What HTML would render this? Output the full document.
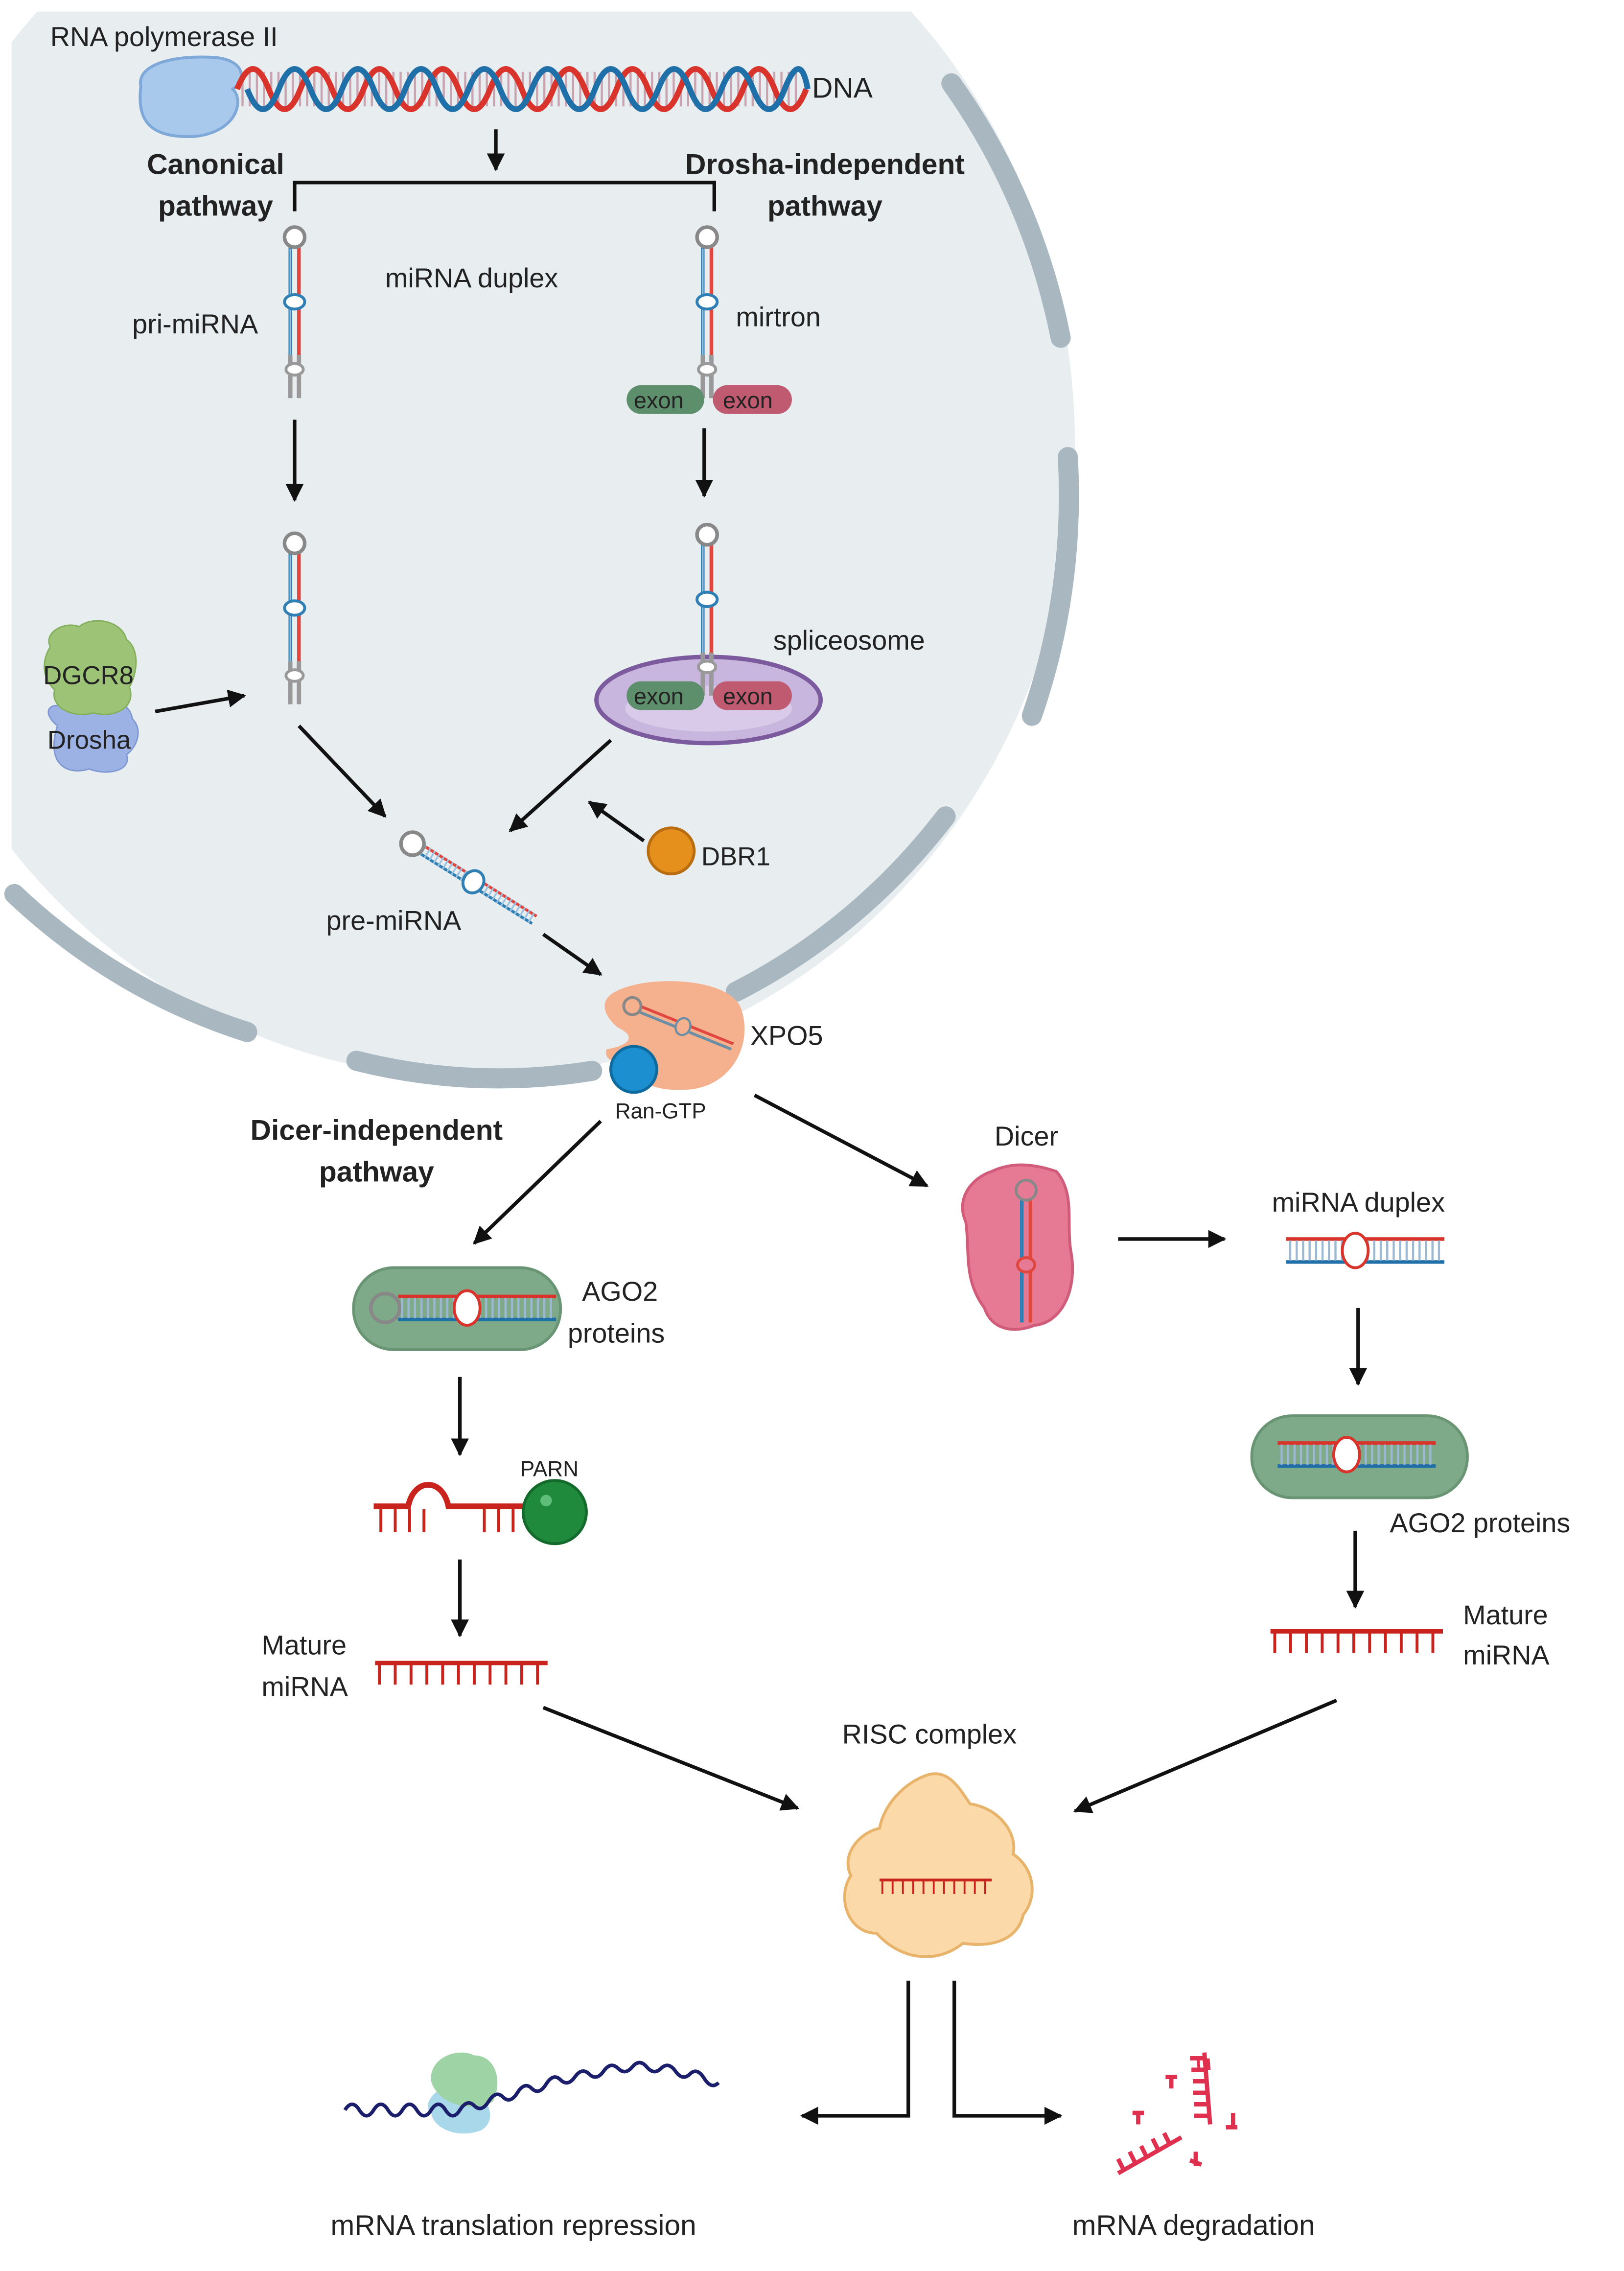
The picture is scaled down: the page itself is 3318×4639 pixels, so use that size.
<!DOCTYPE html>
<html><head><meta charset="utf-8"><style>
html,body{margin:0;padding:0;background:#fff}
svg{display:block}
text{font-family:"Liberation Sans",sans-serif;fill:#222}
</style></head><body>
<svg width="3318" height="4639" viewBox="0 0 1130 1580" preserveAspectRatio="none" xmlns="http://www.w3.org/2000/svg">
<defs>
<clipPath id="cc"><rect x="8" y="8" width="1200" height="1200"/></clipPath>
<marker id="ah" viewBox="0 0 10 10" refX="9" refY="5" markerWidth="5" markerHeight="5" orient="auto-start-reverse" markerUnits="strokeWidth"><path d="M0,0 L10,5 L0,10 z" fill="#111"/></marker>
<symbol id="hp" overflow="visible">
<line x1="-3" y1="7" x2="-3" y2="82" stroke="#2f7fb5" stroke-width="2.5"/>
<line x1="3" y1="7" x2="3" y2="82" stroke="#e0473f" stroke-width="2.5"/>
<line x1="-3" y1="8" x2="-3" y2="82" stroke="#9bc3df" stroke-width="1" />
<ellipse cx="0" cy="45" rx="7" ry="5" fill="#fff" stroke="#2f7fb5" stroke-width="2"/>
<line x1="-3" y1="82" x2="-3" y2="112" stroke="#999" stroke-width="3"/>
<line x1="3" y1="82" x2="3" y2="112" stroke="#999" stroke-width="3"/>
<ellipse cx="0" cy="92" rx="6" ry="4" fill="#fff" stroke="#999" stroke-width="2"/>
<circle cx="0" cy="0" r="7" fill="#fff" stroke="#888" stroke-width="2.5"/>
</symbol>
<symbol id="comb" overflow="visible">
<line x1="0" y1="0" x2="120" y2="0" stroke="#c8231c" stroke-width="3"/>
<line x1="2" y1="8" x2="120" y2="8" stroke="#c8231c" stroke-width="14" stroke-dasharray="2 9"/>
</symbol>
<symbol id="dup" overflow="visible">
<line x1="0" y1="0" x2="110" y2="0" stroke="#d9342b" stroke-width="2.5"/>
<line x1="0" y1="16" x2="110" y2="16" stroke="#1f6fa8" stroke-width="2.5"/>
<line x1="2" y1="8" x2="110" y2="8" stroke="#9db8d2" stroke-width="14" stroke-dasharray="1.5 3"/>
<ellipse cx="48" cy="8" rx="9" ry="12" fill="#fff" stroke="#d9342b" stroke-width="2"/>
</symbol>
</defs>

<!-- cell -->
<g clip-path="url(#cc)">
<ellipse cx="330" cy="310" rx="418" ry="440" fill="#e8eef0"/>
</g>
<g fill="none" stroke="#a9b7c0" stroke-width="14" stroke-linecap="round">
<path d="M662 58 A425 447 0 0 1 738 235"/>
<path d="M743 318 A425 447 0 0 1 718 498"/>
<path d="M658 568 A425 447 0 0 1 512 690"/>
<path d="M248 738 A425 447 0 0 0 412 745"/>
<path d="M10 622 A425 447 0 0 0 172 718"/>
</g>

<!-- Pol II & DNA -->
<text x="35" y="32" font-size="19">RNA polymerase II</text>
<path d="M98 60 C95 45 120 38 150 40 C170 42 172 55 162 62 C170 70 165 92 135 95 C105 96 95 85 98 60z" fill="#a8c8ec" stroke="#7ea8d8" stroke-width="2"/>
<line x1="168" y1="62" x2="555" y2="62" stroke="#c9a3b0" stroke-width="24" stroke-dasharray="1.5 3.5"/>
<path d="M165 62 q11 -28 22 0 t22 0 t22 0 t22 0 t22 0 t22 0 t22 0 t22 0 t22 0 t22 0 t22 0 t22 0 t22 0 t22 0 t22 0 t22 0 t22 0 t22 0" fill="none" stroke="#d9342b" stroke-width="4"/>
<path d="M172 62 q11 28 22 0 t22 0 t22 0 t22 0 t22 0 t22 0 t22 0 t22 0 t22 0 t22 0 t22 0 t22 0 t22 0 t22 0 t22 0 t22 0 t22 0 t16 0" fill="none" stroke="#1f6fa8" stroke-width="4"/>
<text x="565" y="68" font-size="20">DNA</text>
<line x1="345" y1="90" x2="345" y2="118" stroke="#111" stroke-width="2.5" marker-end="url(#ah)"/>
<path d="M205 147 V127 H497 V147" fill="none" stroke="#111" stroke-width="2.5"/>
<g font-weight="bold" font-size="20" text-anchor="middle">
<text x="150" y="121">Canonical</text><text x="150" y="150">pathway</text>
<text x="574" y="121">Drosha-independent</text><text x="574" y="150">pathway</text>
<text x="262" y="793">Dicer-independent</text><text x="262" y="822">pathway</text>
</g>

<!-- hairpins -->
<use href="#hp" x="205" y="165"/>
<use href="#hp" x="205" y="378"/>
<use href="#hp" x="492" y="165"/>
<use href="#hp" x="492" y="372"/>
<text x="268" y="200" font-size="19">miRNA duplex</text>
<text x="92" y="232" font-size="19">pri-miRNA</text>
<text x="512" y="227" font-size="19">mirtron</text>
<rect x="436" y="268" width="54" height="20" rx="10" fill="#5e8f6c"/>
<rect x="496" y="268" width="55" height="20" rx="10" fill="#c05a70"/>
<text x="441" y="284" font-size="16">exon</text><text x="503" y="284" font-size="16">exon</text>

<line x1="205" y1="292" x2="205" y2="348" stroke="#111" stroke-width="2.5" marker-end="url(#ah)"/>
<line x1="490" y1="298" x2="490" y2="345" stroke="#111" stroke-width="2.5" marker-end="url(#ah)"/>

<ellipse cx="493" cy="487" rx="78" ry="30" fill="#c9b6de" stroke="#7c5a9e" stroke-width="3"/>
<ellipse cx="493" cy="493" rx="58" ry="16" fill="#d8cae8"/>
<use href="#hp" x="492" y="372"/>
<rect x="436" y="474" width="54" height="20" rx="10" fill="#5e8f6c"/>
<rect x="496" y="474" width="55" height="20" rx="10" fill="#c05a70"/>
<text x="441" y="490" font-size="16">exon</text><text x="503" y="490" font-size="16">exon</text>
<text x="538" y="452" font-size="19">spliceosome</text>

<!-- DGCR8 / Drosha -->
<path d="M40 505 C28 495 35 488 45 492 C50 480 90 482 92 500 C100 508 95 520 88 525 C92 536 75 540 62 535 C45 540 32 530 40 505z" fill="#9cb2e4" stroke="#7f98d2"/>
<path d="M35 450 C30 440 45 432 55 436 C65 428 85 432 88 445 C98 452 95 470 90 478 C95 492 80 500 65 496 C50 500 35 492 38 480 C28 470 30 458 35 450z" fill="#9dc476" stroke="#84b05e"/>
<text x="30" y="476" font-size="18">DGCR8</text>
<text x="33" y="521" font-size="18">Drosha</text>
<line x1="108" y1="495" x2="170" y2="484" stroke="#111" stroke-width="2.5" marker-end="url(#ah)"/>

<line x1="208" y1="505" x2="268" y2="568" stroke="#111" stroke-width="2.5" marker-end="url(#ah)"/>
<line x1="425" y1="515" x2="355" y2="578" stroke="#111" stroke-width="2.5" marker-end="url(#ah)"/>
<line x1="448" y1="585" x2="410" y2="558" stroke="#111" stroke-width="2.5" marker-end="url(#ah)"/>
<circle cx="467" cy="592" r="16" fill="#e58f1c" stroke="#b86d10" stroke-width="2"/>
<text x="488" y="602" font-size="18">DBR1</text>

<!-- pre-miRNA -->
<g transform="translate(287 587) rotate(32)">
<line x1="6" y1="-3" x2="100" y2="-3" stroke="#e0473f" stroke-width="2"/>
<line x1="6" y1="3" x2="100" y2="3" stroke="#2f7fb5" stroke-width="2"/>
<line x1="8" y1="0" x2="100" y2="0" stroke="#9bc3df" stroke-width="8" stroke-dasharray="1.2 2.5"/>
<ellipse cx="50" cy="0" rx="7" ry="8" fill="#fff" stroke="#2f7fb5" stroke-width="2"/>
<circle cx="0" cy="0" r="8" fill="#fff" stroke="#888" stroke-width="2.5"/>
</g>
<text x="227" y="647" font-size="19">pre-miRNA</text>
<line x1="378" y1="650" x2="418" y2="678" stroke="#111" stroke-width="2.5" marker-end="url(#ah)"/>

<!-- XPO5 -->
<path d="M428 690 C450 678 505 680 515 700 C525 725 510 755 480 758 C455 760 440 752 440 740 C430 738 420 740 422 730 C435 728 445 722 430 715 C418 705 418 695 428 690z" fill="#f5b08e"/>
<g transform="translate(440 700) rotate(22)">
<line x1="5" y1="-2" x2="75" y2="-2" stroke="#e0473f" stroke-width="2"/>
<line x1="5" y1="2" x2="75" y2="2" stroke="#6d8fa6" stroke-width="2"/>
<ellipse cx="38" cy="0" rx="5" ry="6" fill="#f5b08e" stroke="#6d8fa6" stroke-width="1.5"/>
<circle cx="0" cy="0" r="6" fill="none" stroke="#888" stroke-width="2"/>
</g>
<circle cx="441" cy="744" r="16" fill="#1b8fcf" stroke="#0f6a9e" stroke-width="2"/>
<text x="522" y="727" font-size="19">XPO5</text>
<text x="428" y="778" font-size="15">Ran-GTP</text>

<line x1="418" y1="780" x2="330" y2="865" stroke="#111" stroke-width="2.5" marker-end="url(#ah)"/>
<line x1="525" y1="762" x2="645" y2="825" stroke="#111" stroke-width="2.5" marker-end="url(#ah)"/>

<!-- Dicer -->
<text x="692" y="797" font-size="19">Dicer</text>
<path d="M690 815 C705 808 720 810 735 815 C748 830 742 850 745 870 C750 895 740 920 720 922 C705 928 690 925 685 910 C670 890 675 870 672 850 C665 835 675 820 690 815z" fill="#e67a94" stroke="#d15c7a" stroke-width="2"/>
<line x1="711" y1="835" x2="711" y2="920" stroke="#2f7fb5" stroke-width="2.5"/>
<line x1="717" y1="835" x2="717" y2="920" stroke="#e0473f" stroke-width="2.5"/>
<circle cx="714" cy="828" r="7" fill="#e67a94" stroke="#888" stroke-width="2"/>
<ellipse cx="714" cy="880" rx="6" ry="5" fill="#e67a94" stroke="#e0473f" stroke-width="2"/>
<line x1="778" y1="862" x2="852" y2="862" stroke="#111" stroke-width="2.5" marker-end="url(#ah)"/>

<text x="885" y="843" font-size="19">miRNA duplex</text>
<use href="#dup" x="895" y="862"/>
<line x1="945" y1="910" x2="945" y2="963" stroke="#111" stroke-width="2.5" marker-end="url(#ah)"/>
<rect x="871" y="985" width="150" height="57" rx="28" fill="#7faa8a" stroke="#6a9575" stroke-width="2"/>
<use href="#dup" x="889" y="1004"/>
<text x="967" y="1066" font-size="19">AGO2 proteins</text>
<line x1="943" y1="1065" x2="943" y2="1118" stroke="#111" stroke-width="2.5" marker-end="url(#ah)"/>
<use href="#comb" x="884" y="1135"/>
<text x="1018" y="1130" font-size="19">Mature</text>
<text x="1018" y="1158" font-size="19">miRNA</text>

<!-- left branch -->
<rect x="246" y="882" width="144" height="57" rx="28" fill="#7faa8a" stroke="#6a9575" stroke-width="2"/>
<use href="#dup" x="277" y="902"/>
<circle cx="268" cy="910" r="10" fill="#7faa8a" stroke="#888" stroke-width="2.5"/>
<text x="405" y="905" font-size="19">AGO2</text>
<text x="395" y="934" font-size="19">proteins</text>
<line x1="320" y1="958" x2="320" y2="1012" stroke="#111" stroke-width="2.5" marker-end="url(#ah)"/>
<path d="M260 1048 H284 C288 1028 308 1028 312 1048 H370" fill="none" stroke="#c8231c" stroke-width="4"/>
<line x1="264" y1="1058" x2="300" y2="1058" stroke="#c8231c" stroke-width="16" stroke-dasharray="2 8"/>
<line x1="336" y1="1058" x2="366" y2="1058" stroke="#c8231c" stroke-width="16" stroke-dasharray="2 8"/>
<circle cx="386" cy="1052" r="22" fill="#1f8a3c" stroke="#146a2c" stroke-width="2"/>
<circle cx="380" cy="1044" r="4" fill="#5fbf7a"/>
<text x="362" y="1027" font-size="15">PARN</text>
<line x1="320" y1="1085" x2="320" y2="1138" stroke="#111" stroke-width="2.5" marker-end="url(#ah)"/>
<text x="182" y="1151" font-size="19">Mature</text>
<text x="182" y="1180" font-size="19">miRNA</text>
<use href="#comb" x="261" y="1157"/>

<line x1="378" y1="1188" x2="555" y2="1258" stroke="#111" stroke-width="2.5" marker-end="url(#ah)"/>
<line x1="930" y1="1183" x2="748" y2="1260" stroke="#111" stroke-width="2.5" marker-end="url(#ah)"/>

<!-- RISC -->
<text x="586" y="1213" font-size="19">RISC complex</text>
<path d="M645 1235 C660 1230 668 1245 675 1255 C695 1258 708 1275 705 1290 C720 1300 722 1320 712 1332 C708 1350 690 1355 670 1352 C650 1368 625 1362 610 1345 C590 1345 582 1320 592 1305 C585 1290 598 1275 612 1272 C615 1255 630 1240 645 1235z" fill="#fbd9a8" stroke="#e8b46c" stroke-width="2"/>
<g transform="translate(612 1308) scale(0.65)"><use href="#comb"/></g>

<path d="M632 1378 V1472 H558" fill="none" stroke="#111" stroke-width="2.5" marker-end="url(#ah)"/>
<path d="M664 1378 V1472 H738" fill="none" stroke="#111" stroke-width="2.5" marker-end="url(#ah)"/>

<!-- mRNA -->
<path d="M300 1470 C290 1462 315 1440 330 1455 C342 1462 345 1476 335 1482 C320 1488 302 1482 300 1470z" fill="#a9d8ea"/>
<path d="M300 1448 C298 1432 318 1424 330 1430 C345 1430 350 1448 343 1462 C330 1470 305 1465 300 1448z" fill="#9ed3a6"/>
<path d="M240 1468 q5 -8 10 0 t10 0 t10 0 t10 0 t10 0 t10 0 t10 0 t10 0 t10 -3 t10 -3 t10 -3 t10 -3 t10 -3 t10 -3 t10 -3 t10 -2 t10 -2 t10 -2 t10 -2 t10 -1 t10 0 t10 1 t10 2 t10 2 t10 3 t10 3" fill="none" stroke="#1b1f6b" stroke-width="2.5"/>
<g stroke="#e0304f" stroke-width="3" fill="none">
<line x1="838" y1="1428" x2="842" y2="1478"/>
<line x1="842" y1="1436" x2="830" y2="1437" stroke-width="8" stroke-dasharray="2 5" transform="rotate(0)"/>
<path d="M838 1432 h-10 M839 1440 h-10 M840 1448 h-10 M840 1456 h-10 M841 1464 h-10 M841 1472 h-10"/>
<line x1="778" y1="1512" x2="822" y2="1487"/>
<path d="M782 1510 l-4 -8 M790 1505 l-4 -8 M798 1501 l-4 -8 M806 1496 l-4 -8 M814 1492 l-4 -8"/>
<path d="M815 1445 v8 M811 1445 h8 M792 1470 v8 M788 1470 h8 M858 1470 v10 M853 1480 h8 M828 1503 l8 3 M832 1497 v10"/>
</g>

<text x="230" y="1555" font-size="20">mRNA translation repression</text>
<text x="746" y="1555" font-size="20">mRNA degradation</text>
</svg>
</body></html>
